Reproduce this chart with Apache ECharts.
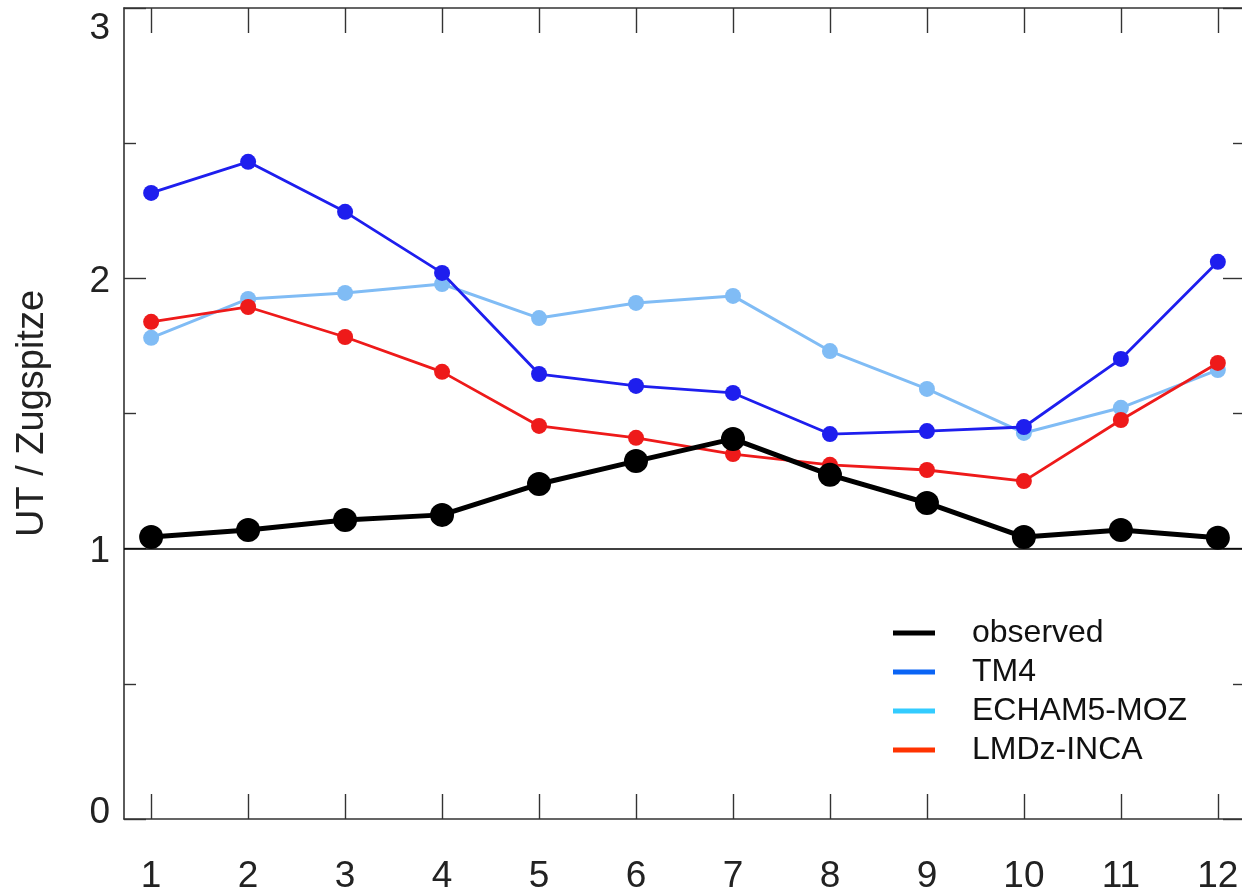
<!DOCTYPE html>
<html><head><meta charset="utf-8">
<script src="https://cdn.jsdelivr.net/npm/echarts@6/dist/echarts.min.js"></script>
<style>html,body{margin:0;padding:0;background:#fff}#c{width:1242px;height:891px}</style>
</head><body><div id="c"></div>
<script>
var months = [1,2,3,4,5,6,7,8,9,10,11,12];
var observed = [1.043,1.069,1.106,1.125,1.239,1.324,1.406,1.273,1.169,1.043,1.069,1.040];
var tm4 = [2.316,2.431,2.246,2.020,1.646,1.602,1.576,1.424,1.435,1.450,1.702,2.061];
var echam = [1.780,1.924,1.946,1.979,1.853,1.909,1.935,1.731,1.591,1.428,1.521,1.661];
var lmdz = [1.839,1.894,1.783,1.654,1.454,1.410,1.350,1.310,1.291,1.250,1.476,1.687];
var yTicks = [0,1,2,3];

function pairs(arr){ return months.map(function(m,i){ return [m, arr[i]]; }); }

var FONT = 'Liberation Sans, Arial, Helvetica, sans-serif';
var axisCol = '#333';
var chart = echarts.init(document.getElementById('c'));
var xBase = {
  type:'value', min:0.72, max:12.28,
  splitLine:{show:false},
  axisLine:{show:true, onZero:false, lineStyle:{color:axisCol, width:1.6}},
  axisTick:{show:true, inside:true, length:25, customValues:months, lineStyle:{color:axisCol, width:1.4}}
};
chart.setOption({
  animation:false,
  backgroundColor:'#fff',
  grid:{left:124, top:8, right:-3, bottom:72, containLabel:false, outerBoundsMode:'none'},
  legend:{
    orient:'vertical', left:893, top:617, padding:0, itemWidth:42, itemHeight:5, itemGap:7,
    textStyle:{fontFamily:FONT, fontSize:32, color:'#111', padding:[0,0,0,32]},
    icon:'rect',
    data:[
      {name:'observed', itemStyle:{color:'#000'}},
      {name:'TM4', itemStyle:{color:'#0a64f5'}},
      {name:'ECHAM5-MOZ', itemStyle:{color:'#33ccff'}},
      {name:'LMDz-INCA', itemStyle:{color:'#ff3300'}}
    ]
  },
  xAxis:[
    Object.assign({}, xBase, {position:'bottom',
      axisLabel:{show:true, customValues:months, margin:39, fontFamily:FONT, fontSize:37, color:'#222'}}),
    Object.assign({}, xBase, {position:'top', axisLabel:{show:false}})
  ],
  yAxis:[
    {type:'value', min:0, max:3, interval:1, position:'left',
     name:'UT / Zugspitze', nameLocation:'middle', nameGap:72, nameRotate:90,
     nameTextStyle:{fontFamily:FONT, fontSize:38, color:'#222'},
     splitLine:{show:false},
     axisLine:{show:true, lineStyle:{color:axisCol, width:1.6}},
     axisTick:{show:true, inside:true, length:22, lineStyle:{color:axisCol, width:1.4}},
     minorTick:{show:true, splitNumber:2, length:12, lineStyle:{color:axisCol, width:1.4}},
     axisLabel:{margin:14, fontFamily:FONT, fontSize:37, color:'#222',
       formatter:function(v){
         if(v===3) return '{t|'+v+'}';
         if(v===0) return '{b|'+v+'}';
         return '{m|'+v+'}';
       },
       rich:{
         t:{fontFamily:FONT, fontSize:37, color:'#222', padding:[42,0,0,0]},
         b:{fontFamily:FONT, fontSize:37, color:'#222', padding:[0,0,12,0]},
         m:{fontFamily:FONT, fontSize:37, color:'#222', padding:[6,0,0,0]}
       }}
    },
    {type:'value', min:0, max:3, interval:1, position:'right',
     splitLine:{show:false},
     axisLine:{show:true, lineStyle:{color:axisCol, width:1.6}},
     axisTick:{show:true, inside:true, length:22, lineStyle:{color:axisCol, width:1.4}},
     minorTick:{show:true, splitNumber:2, length:12, lineStyle:{color:axisCol, width:1.4}},
     axisLabel:{show:false}}
  ],
  series:[
    {name:'ECHAM5-MOZ', type:'line', data:pairs(echam), symbol:'circle', symbolSize:16,
     lineStyle:{color:'#80bcf5', width:3}, itemStyle:{color:'#80bcf5'}, z:2},
    {name:'LMDz-INCA', type:'line', data:pairs(lmdz), symbol:'circle', symbolSize:16,
     lineStyle:{color:'#ee1a1a', width:2.8}, itemStyle:{color:'#ee1a1a'}, z:3},
    {name:'TM4', type:'line', data:pairs(tm4), symbol:'circle', symbolSize:16,
     lineStyle:{color:'#1e1eee', width:2.8}, itemStyle:{color:'#1e1eee'}, z:4},
    {name:'observed', type:'line', data:pairs(observed), symbol:'circle', symbolSize:24,
     lineStyle:{color:'#000', width:5}, itemStyle:{color:'#000'}, z:5,
     markLine:{silent:true, symbol:'none', label:{show:false},
       lineStyle:{color:'#000', width:1.6, type:'solid'}, data:[{yAxis:1}]}}
  ]
});
</script></body></html>
